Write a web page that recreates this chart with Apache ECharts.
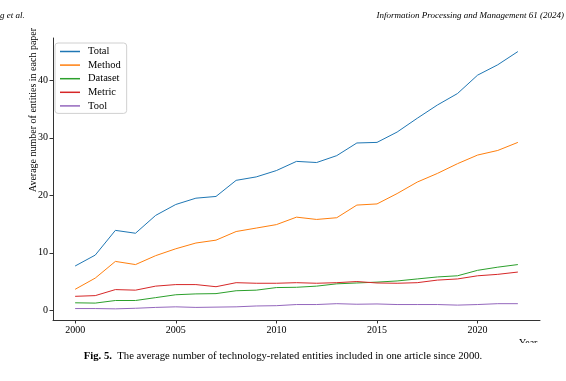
<!DOCTYPE html>
<html><head><meta charset="utf-8">
<script src="https://cdn.jsdelivr.net/npm/echarts@6/dist/echarts.min.js"></script>
<style>html,body{margin:0;padding:0;background:#fff}#c{width:566px;height:381px}</style>
</head><body><div id="c"></div>
<script>
const years = [2000,2001,2002,2003,2004,2005,2006,2007,2008,2009,2010,2011,2012,2013,2014,2015,2016,2017,2018,2019,2020,2021,2022];
const total   = [7.7,9.6,13.9,13.4,16.5,18.4,19.5,19.8,22.6,23.2,24.3,25.9,25.7,26.9,29.1,29.2,31.0,33.4,35.7,37.7,40.9,42.7,45.0];
const method  = [3.65,5.6,8.5,7.95,9.5,10.7,11.7,12.2,13.7,14.3,14.9,16.2,15.8,16.1,18.3,18.5,20.3,22.3,23.8,25.5,27.0,27.8,29.2];
const dataset = [1.3,1.25,1.7,1.7,2.2,2.7,2.85,2.9,3.4,3.5,3.95,4.0,4.2,4.6,4.75,4.9,5.1,5.45,5.8,6.0,6.95,7.5,7.95];
const metric  = [2.43,2.55,3.6,3.5,4.2,4.47,4.47,4.1,4.8,4.7,4.7,4.8,4.7,4.8,5.0,4.75,4.7,4.8,5.25,5.45,6.0,6.25,6.65];
const tool    = [0.3,0.3,0.25,0.35,0.5,0.6,0.5,0.55,0.6,0.75,0.8,1.0,1.0,1.15,1.05,1.1,1.0,1.0,1.0,0.9,1.0,1.15,1.15];
const xTicks = [2000,2005,2010,2015,2020];
const yTicks = [0,10,20,30,40];
const names = ['Total','Method','Dataset','Metric','Tool'];
const colors = ['#1f77b4','#ff7f0e','#2ca02c','#d62728','#9467bd'];
const values = [total, method, dataset, metric, tool];

const font = 'Liberation Serif';
const chart = echarts.init(document.getElementById('c'));
chart.setOption({
  animation: false,
  backgroundColor: '#fff',
  color: colors,
  grid: {left: 53, right: 26, top: 38, bottom: 61, containLabel: false},
  legend: {
    orient: 'vertical', left: 55, top: 43,
    data: names, icon: 'rect', itemWidth: 20, itemHeight: 1.5, itemGap: 2.6,
    textStyle: {fontFamily: font, fontSize: 10.5, color: '#000', padding:[0,0,0,3]},
    borderColor: '#d0d0d0', borderWidth: 1, borderRadius: 3, padding: [3, 6, 2, 5]
  },
  xAxis: {
    type: 'value', min: 1998.9, max: 2023.1,
    splitLine: {show: false},
    axisLine: {show: true, onZero: false, lineStyle: {color: '#333', width: 1}},
    axisTick: {show: true, length: 3.5, customValues: xTicks, lineStyle: {color: '#333'}},
    axisLabel: {customValues: xTicks, formatter: v => String(v), fontFamily: font, fontSize: 10, color: '#000', margin: 5}
  },
  yAxis: {
    type: 'value', min: -1.69, max: 47.36,
    splitLine: {show: false},
    axisLine: {show: true, onZero: false, lineStyle: {color: '#333', width: 1}},
    axisTick: {show: true, length: 3.5, customValues: yTicks, lineStyle: {color: '#333'}},
    axisLabel: {customValues: yTicks, formatter: v => String(v), fontFamily: font, fontSize: 10, color: '#000', margin: 5}
  },
  series: names.map((n, i) => ({
    name: n, type: 'line', showSymbol: false, symbol: 'none',
    lineStyle: {width: 1, color: colors[i]},
    data: years.map((y, j) => [y, values[i][j]])
  })),
  graphic: [
    {type: 'text', left: 0, top: 11, style: {text: 'g et al.', font: 'italic 9px "Liberation Serif"', fill: '#000'}},
    {type: 'text', right: 2, top: 11, style: {text: 'Information Processing and Management 61 (2024)', font: 'italic 9px "Liberation Serif"', fill: '#000'}},
    {type: 'text', x: 33, y: 110, rotation: Math.PI/2, style: {text: 'Average number of entities in each paper', font: '10px "Liberation Serif"', fill: '#000', align: 'center', verticalAlign: 'middle'}},
    {type: 'text', x: 519, y: 338, style: {text: 'Year', font: '10px "Liberation Serif"', fill: '#000'}},
    {type: 'rect', shape: {x: 500, y: 343, width: 60, height: 10}, style: {fill: '#fff'}, z: 100},
    {type: 'text', left: 'center', top: 351, style: {rich: {b: {fontFamily: font, fontWeight: 'bold', fontSize: 10.7}, n: {fontFamily: font, fontSize: 10.7}}, text: '{b|Fig. 5.}{n|  The average number of technology-related entities included in one article since 2000.}', fill: '#000'}}
  ]
});
</script></body></html>
